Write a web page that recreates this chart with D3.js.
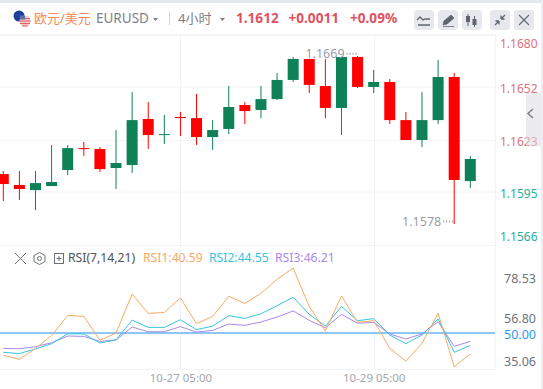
<!DOCTYPE html>
<html><head><meta charset="utf-8">
<script src="https://cdn.jsdelivr.net/npm/d3@7/dist/d3.min.js"></script>
<style>
html,body{margin:0;padding:0;background:#fff;overflow:hidden}
svg{display:block}
text{font-family:"Noto Sans","Noto Sans CJK SC",sans-serif}
</style></head><body><svg id="c" width="543" height="389"></svg>
<script>
const opens  =[1.16045,1.15986,1.15958,1.15980,1.16067,1.16186,1.16181,1.16078,1.16094,1.16344,1.16262,1.16355,1.16349,1.16246,1.16290,1.16420,1.16393,1.16452,1.16556,1.16670,1.16523,1.16404,1.16681,1.16518,1.16545,1.16338,1.16230,1.16338,1.16572,1.16007];
const closes =[1.15991,1.15964,1.15996,1.16002,1.16186,1.16181,1.16072,1.16105,1.16338,1.16257,1.16262,1.16349,1.16246,1.16284,1.16409,1.16387,1.16452,1.16556,1.16670,1.16529,1.16404,1.16681,1.16518,1.16545,1.16338,1.16230,1.16338,1.16572,1.16013,1.16127];
const highs  =[1.16062,1.16062,1.16062,1.16203,1.16203,1.16219,1.16192,1.16284,1.16490,1.16436,1.16366,1.16382,1.16480,1.16338,1.16523,1.16436,1.16523,1.16594,1.16681,1.16670,1.16670,1.16681,1.16686,1.16610,1.16561,1.16382,1.16490,1.16664,1.16594,1.16143];
const lows   =[1.15899,1.15904,1.15850,1.15980,1.16040,1.16143,1.16056,1.15964,1.16051,1.16181,1.16208,1.16252,1.16203,1.16176,1.16262,1.16317,1.16349,1.16447,1.16545,1.16485,1.16349,1.16257,1.16512,1.16485,1.16317,1.16230,1.16192,1.16317,1.15774,1.15969];
const rsi1=[38.2,35.9,41.8,48.6,59.4,58.9,46.1,50.0,70.8,60.5,61.0,68.7,55.0,58.9,69.6,65.8,71.2,78.7,84.7,64.1,51.1,69.8,55.7,56.6,41.8,35.0,44.5,60.5,32.0,38.8];
const rsi2=[39.7,39.0,41.5,44.3,49.6,49.5,44.7,46.3,56.9,53.0,53.0,57.1,51.8,53.7,59.3,57.8,60.3,64.6,69.1,60.0,53.7,64.2,56.6,57.7,48.9,44.3,48.9,57.5,39.7,43.4];
const rsi3=[41.8,41.6,42.7,44.8,48.4,48.2,45.5,46.3,53.2,50.7,50.7,53.4,50.5,51.4,54.8,54.1,55.9,58.5,61.8,56.8,52.8,60.0,55.2,55.7,49.5,46.8,49.5,56.1,42.9,45.5];
const priceTicks=[1.1680,1.1652,1.1623,1.1595,1.1566];
const rsiTicks=[78.53,56.80,50.00,35.06];
const timeTicks=[{i:11,label:"10-27 05:00"},{i:23,label:"10-29 05:00"}];
const maxLabel={i:22,value:1.1669}, minLabel={i:28,value:1.1578};

const svg=d3.select("#c");
const x=d3.scaleLinear().domain([0,29]).range([3.3,470.3]);
const y=d3.scaleLinear().domain([1.1566,1.1680]).range([245,35]);
const yr=d3.scaleLinear().domain([35.06,78.53]).range([361,279.6]);
const gridC="#f1f3f7", R="#ff0000", G="#0f8156";

// chrome
svg.append("rect").attr("width",543).attr("height",3).attr("fill","#e4e8ef");
svg.append("rect").attr("x",541).attr("width",2).attr("height",389).attr("fill","#eceef2");
svg.append("rect").attr("y",34).attr("width",495).attr("height",1).attr("fill","#f6f7f9");
svg.append("line").attr("x1",495.5).attr("x2",495.5).attr("y1",34).attr("y2",369).attr("stroke",gridC);

// grid
const vg=svg.append("g");
vg.selectAll("line").data(timeTicks).join("line")
 .attr("x1",d=>Math.round(x(d.i))+.5).attr("x2",d=>Math.round(x(d.i))+.5).attr("y1",34).attr("y2",369)
 .attr("stroke",gridC);
const gp=svg.append("g").attr("transform","translate(495,0)")
 .call(d3.axisRight(y).tickValues(priceTicks).tickSize(0).tickPadding(5).tickFormat(d3.format(".4f")));
gp.select(".domain").remove();
gp.selectAll("line").attr("x1",-495).attr("x2",0).attr("stroke",gridC).attr("stroke-width",1);
gp.selectAll("text").attr("font-size",12).attr("font-family","Noto Sans")
 .attr("fill",d=>d>1.161?"#e0707c":"#1fae98")
 .attr("dy",(d,i)=>["1.05em","0.5em","0.42em","0.5em","-0.34em"][i]);

// candles
const n=d3.range(opens.length);
const cg=svg.append("g");
cg.selectAll("line").data(n).join("line")
 .attr("x1",i=>x(i)).attr("x2",i=>x(i)).attr("y1",i=>y(highs[i])).attr("y2",i=>y(lows[i]))
 .attr("stroke",i=>closes[i]>=opens[i]?G:R).attr("stroke-width",1);
cg.selectAll("rect").data(n).join("rect")
 .attr("x",i=>x(i)-5.5).attr("width",11)
 .attr("y",i=>y(Math.max(opens[i],closes[i])))
 .attr("height",i=>Math.max(1,Math.abs(y(opens[i])-y(closes[i]))))
 .attr("fill",i=>closes[i]>=opens[i]?G:R);

// hi/lo annotation
[maxLabel,minLabel].forEach(m=>{
 const px=x(m.i), py=y(m.value);
 svg.append("line").attr("x1",px-11).attr("x2",px).attr("y1",py-1.5).attr("y2",py-1.5)
  .attr("stroke","#9a9ea8").attr("stroke-width",2).attr("stroke-dasharray","1 2");
 svg.append("text").attr("x",px-13).attr("y",py+3).attr("text-anchor","end")
  .attr("font-size",12.5).attr("fill","#8b8f99").attr("fill-opacity",.9).text(m.value.toFixed(4));
});

// collapse handle
svg.append("rect").attr("x",526).attr("y",93).attr("width",15).attr("height",53).attr("fill","#dcdce2").attr("opacity",.55);
svg.append("path").attr("d","M533 109l-5 4.500 5 4.500").attr("fill","none").attr("stroke","#7c818c").attr("stroke-width",1.5);

// header
svg.append("circle").attr("cx",19).attr("cy",16).attr("r",5.500).attr("fill","#1f3f9c");
svg.append("circle").attr("cx",25).attr("cy",21).attr("r",5.500).attr("fill","#f3c6c6");
svg.append("path").attr("d","M20 18.500h10M19.500 21h11M20 23.500h10M22 26h6").attr("stroke","#e0606a").attr("stroke-width",1);
svg.append("path").attr("d","M20 15.500h5v4h-5z").attr("fill","#5a6fa8");
const hdr=[["欧元/美元",34,"#f58a5a",13,"Noto Sans CJK SC"],["EURUSD",96,"#7d808a",13.5,"Noto Sans"],["4小时",178,"#7d808a",13,"Noto Sans CJK SC"]];
hdr.forEach(h=>svg.append("text").attr("x",h[1]).attr("y",23).attr("font-size",h[3]).attr("font-family",h[4]).attr("fill",h[2]).text(h[0]));
[[153,19],[220,19]].forEach(p=>svg.append("path").attr("d",`M${p[0]} ${p[1]-1}h5l-2.500 3z`).attr("fill","#7d808a"));
svg.append("rect").attr("x",169).attr("y",12).attr("width",1).attr("height",13).attr("fill","#cfd3da");
[["1.1612",236],["+0.0011",288.5],["+0.09%",350]].forEach(t=>svg.append("text").attr("x",t[1]).attr("y",22.500).attr("font-size",13.6).attr("font-weight",700).attr("fill","#e05263").text(t[0]));
const btns=[414,438,462,490,514];
btns.forEach(b=>svg.append("rect").attr("x",b).attr("y",10).attr("width",20).attr("height",20).attr("rx",4).attr("fill","#e6e8ee"));
const ic="#5f6470";
svg.append("path").attr("d","M417 20l3-3 3 3 2-1 5 0M418 25h12").attr("fill","none").attr("stroke",ic).attr("stroke-width",1.3);
svg.append("path").attr("d","M443 25l1-4 7-6 3 3-7 6zM443 26.500h11").attr("fill",ic).attr("stroke",ic).attr("stroke-width",.8);
svg.append("path").attr("d","M468 14v12M474.500 16v11").attr("stroke",ic);
svg.append("rect").attr("x",466).attr("y",16).attr("width",4).attr("height",6).attr("fill",ic);
svg.append("rect").attr("x",472.500).attr("y",19).attr("width",4).attr("height",6).attr("fill",ic);
svg.append("path").attr("d","M495 25l4-4M499 21h-3.500M499 21v3.500M505 15l-4 4M501 19h3.500M501 19v-3.500").attr("stroke",ic).attr("stroke-width",1.3).attr("fill","none");
svg.append("path").attr("d","M519 15l10 10M529 15l-10 10").attr("stroke",ic).attr("stroke-width",1.1);

// RSI panel
svg.append("line").attr("x1",0).attr("x2",495).attr("y1",369.500).attr("y2",369.500).attr("stroke",gridC);
svg.append("line").attr("x1",0).attr("x2",495).attr("y1",yr(50)).attr("y2",yr(50)).attr("stroke","#8cc6f5").attr("stroke-width",2);
const line=d3.line().x((d,i)=>x(i)).y(d=>yr(d));
[[rsi3,"#a98ae6"],[rsi2,"#35c6e0"],[rsi1,"#f7ab63"]].forEach(s=>
 svg.append("path").datum(s[0]).attr("d",line).attr("fill","none").attr("stroke",s[1]).attr("stroke-width",1));
const gr=svg.append("g").attr("transform","translate(495,0)")
 .call(d3.axisRight(yr).tickValues(rsiTicks).tickSize(0).tickPadding(41).tickFormat(d3.format(".2f")));
gr.select(".domain").remove();
gr.selectAll("text").attr("text-anchor","end").attr("font-size",12.5).attr("fill",d=>d==50?"#2d9bf0":"#6f737c")
 .attr("dy",(d,i)=>["0.2em","0.18em","0.4em","0.36em"][i]);
const ax=svg.append("g").attr("transform","translate(0,369)")
 .call(d3.axisBottom(x).tickValues(timeTicks.map(d=>d.i)).tickSize(0).tickPadding(5).tickFormat(d=>timeTicks.find(t=>t.i==d).label));
ax.select(".domain").remove();
ax.selectAll("text").attr("font-size",11.5).attr("fill","#a3a7b0");

// RSI legend
svg.append("path").attr("d","M15 253l11 11M26 253l-11 11").attr("stroke","#6b6f78").attr("stroke-width",1);
svg.append("path").attr("d","M39.500 252.500l5.500 3v6l-5.500 3-5.500-3v-6z").attr("fill","none").attr("stroke","#6b6f78");
svg.append("circle").attr("cx",39.500).attr("cy",258.500).attr("r",2).attr("fill","none").attr("stroke","#6b6f78");
svg.append("rect").attr("x",54.500).attr("y",253.500).attr("width",9).attr("height",10).attr("fill","none").attr("stroke","#6b6f78");
svg.append("path").attr("d","M56.500 258.500h5M59 256v5").attr("stroke","#6b6f78");
[["RSI(7,14,21)",68,"#4e525c"],["RSI1:40.59",143,"#f7a95f"],["RSI2:44.55",209,"#38c2dd"],["RSI3:46.21",275,"#a88be6"]].forEach(t=>
 svg.append("text").attr("x",t[1]).attr("y",262).attr("font-size",12.2).attr("fill",t[2]).text(t[0]));
</script></body></html>
